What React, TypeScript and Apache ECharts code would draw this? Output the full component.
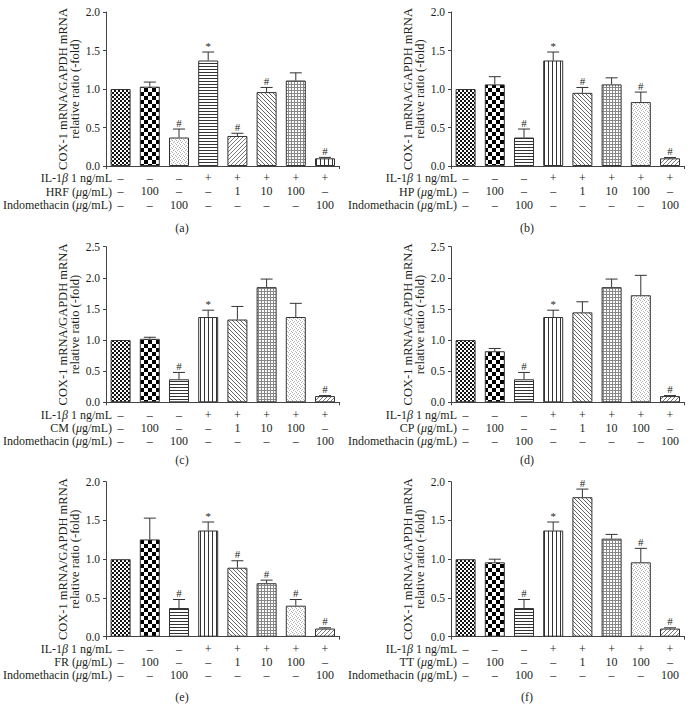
import React, { useEffect, useRef } from "react";
import * as echarts from "echarts";

// ---------- data ----------
const columns = ["G1", "G2", "G3", "G4", "G5", "G6", "G7", "G8"];
const il1bRow = ["–", "–", "–", "+", "+", "+", "+", "+"];
const extractRow = ["–", "100", "–", "–", "1", "10", "100", "–"];
const indoRow = ["–", "–", "100", "–", "–", "–", "–", "100"];

const extractNames = ["HRF", "HP", "CM", "CP", "FR", "TT"];
const panelTags = ["(a)", "(b)", "(c)", "(d)", "(e)", "(f)"];
const yMaxes = [2.0, 2.0, 2.5, 2.5, 2.0, 2.0];

const meansA = [1.0, 1.03, 0.37, 1.37, 0.39, 0.96, 1.11, 0.1];
const semA = [0, 0.06, 0.11, 0.11, 0.035, 0.06, 0.1, 0.012];
const marksA = ["", "", "#", "*", "#", "#", "", "#"];

const meansB = [1.0, 1.06, 0.37, 1.37, 0.95, 1.06, 0.83, 0.1];
const semB = [0, 0.1, 0.11, 0.11, 0.07, 0.085, 0.13, 0.01];
const marksB = ["", "", "#", "*", "#", "", "#", "#"];

const meansC = [1.0, 1.02, 0.37, 1.37, 1.33, 1.85, 1.37, 0.1];
const semC = [0, 0.025, 0.11, 0.11, 0.21, 0.13, 0.22, 0.008];
const marksC = ["", "", "#", "*", "", "", "", "#"];

const meansD = [1.0, 0.82, 0.37, 1.37, 1.445, 1.85, 1.72, 0.1];
const semD = [0, 0.045, 0.11, 0.11, 0.17, 0.13, 0.32, 0.008];
const marksD = ["", "", "#", "*", "", "", "", "#"];

const meansE = [1.0, 1.255, 0.37, 1.37, 0.89, 0.69, 0.4, 0.105];
const semE = [0, 0.275, 0.11, 0.11, 0.09, 0.04, 0.08, 0.01];
const marksE = ["", "", "#", "*", "#", "#", "#", "#"];

const meansF = [1.0, 0.96, 0.37, 1.37, 1.8, 1.265, 0.96, 0.105];
const semF = [0, 0.04, 0.11, 0.11, 0.105, 0.055, 0.18, 0.01];
const marksF = ["", "", "#", "*", "#", "", "#", "#"];

const allMeans = [meansA, meansB, meansC, meansD, meansE, meansF];
const allSem = [semA, semB, semC, semD, semE, semF];
const allMarks = [marksA, marksB, marksC, marksD, marksE, marksF];

const patternsA = ["chkS", "chkL", "stip", "hline", "diagF", "diagB", "grid", "vline"];
const patternsOther = ["chkS", "chkL", "hline", "vline", "diagB", "grid", "stip", "diagF"];

// ---------- styling ----------
const FONT = '"Liberation Serif", "Times New Roman", serif';
const TXT = "#231f20";
const AX = "#444";

function makePattern(kind: string) {
  const sizes: Record<string, number> = {
    chkS: 4, chkL: 8, hline: 3, vline: 4, diagF: 4, diagB: 4, grid: 3, stip: 4,
  };
  const s = sizes[kind];
  const c = document.createElement("canvas");
  c.width = s;
  c.height = s;
  const g = c.getContext("2d")!;
  g.fillStyle = "#fff";
  g.fillRect(0, 0, s, s);
  const px = (x: number, y: number, col: string) => {
    g.fillStyle = col;
    g.fillRect(x, y, 1, 1);
  };
  if (kind === "chkS") {
    g.fillStyle = "#111";
    g.fillRect(0, 0, 2, 2);
    g.fillRect(2, 2, 2, 2);
  } else if (kind === "chkL") {
    g.fillStyle = "#000";
    g.fillRect(0, 0, 4, 4);
    g.fillRect(4, 4, 4, 4);
  } else if (kind === "hline") {
    g.fillStyle = "#333";
    g.fillRect(0, 0, s, 1);
  } else if (kind === "vline") {
    g.fillStyle = "#333";
    g.fillRect(0, 0, 1, s);
  } else if (kind === "diagF") {
    for (let i = 0; i < 4; i++) px(3 - i, i, "#777");
  } else if (kind === "diagB") {
    for (let i = 0; i < 4; i++) px(i, i, "#666");
  } else if (kind === "grid") {
    g.fillStyle = "#888";
    g.fillRect(0, 0, s, 1);
    g.fillRect(0, 0, 1, s);
  } else if (kind === "stip") {
    px(0, 0, "#aaa");
    px(2, 1, "#bbb");
    px(1, 2, "#aaa");
    px(3, 3, "#bbb");
  }
  return { image: c.toDataURL(), repeat: "repeat", imageWidth: s, imageHeight: s };
}

const colLefts = [106, 451];
const gridWidth = 233.6;
const rowTops = [12, 246.7, 481.7];
const rowBottoms = [166, 402.3, 636.7];
const captionX = [182, 527];
const captionY = [227.7, 460, 697.3];
const firstRowOffset = 12.3;
const rowStep = 13.2;

export default function App() {
  const ref = useRef<HTMLDivElement>(null);
  useEffect(() => {
    document.body.style.margin = "0";
    const chart = echarts.init(ref.current!, null, { renderer: "svg" });
    const pat: Record<string, any> = {};
    ["chkS", "chkL", "hline", "vline", "diagF", "diagB", "grid", "stip"].forEach(
      (k) => (pat[k] = makePattern(k))
    );

    const grids: any[] = [];
    const xAxes: any[] = [];
    const yAxes: any[] = [];
    const series: any[] = [];
    const graphics: any[] = [];

    for (let p = 0; p < 6; p++) {
      const col = p % 2;
      const row = Math.floor(p / 2);
      const left = colLefts[col];
      const top = rowTops[row];
      const bottom = rowBottoms[row];
      grids.push({ left, top, width: gridWidth, height: bottom - top });
      xAxes.push({
        type: "category",
        gridIndex: p,
        data: columns,
        boundaryGap: true,
        axisLine: { lineStyle: { color: AX, width: 1 } },
        axisTick: { show: true, interval: (i: number) => i === 4, length: 3, lineStyle: { color: AX } },
        axisLabel: {
          interval: 0,
          margin: firstRowOffset - rowStep / 2,
          lineHeight: rowStep,
          fontSize: 12,
          fontFamily: FONT,
          color: TXT,
          formatter: (_v: string, i: number) => `${il1bRow[i]}\n${extractRow[i]}\n${indoRow[i]}`,
        },
        splitLine: { show: false },
      });
      yAxes.push({
        type: "value",
        gridIndex: p,
        min: 0,
        max: yMaxes[p],
        interval: 0.5,
        axisLine: { show: true, lineStyle: { color: AX, width: 1 } },
        axisTick: { show: true, length: 3, lineStyle: { color: AX } },
        axisLabel: {
          fontSize: 11.5,
          fontFamily: FONT,
          color: TXT,
          margin: 6,
          formatter: (v: number) => v.toFixed(1),
        },
        splitLine: { show: false },
        name: "COX-1 mRNA/GAPDH mRNA\nrelative ratio (-fold)",
        nameLocation: "middle",
        nameGap: 35,
        nameRotate: 90,
        nameTextStyle: {
          fontSize: 12.5,
          fontFamily: FONT,
          color: TXT,
          lineHeight: 12.5,
          align: "center",
          verticalAlign: "middle",
        },
      });
      const pats = p === 0 ? patternsA : patternsOther;
      const means = allMeans[p];
      const sems = allSem[p];
      const marks = allMarks[p];
      series.push({
        type: "bar",
        xAxisIndex: p,
        yAxisIndex: p,
        barWidth: 20,
        data: means.map((m, i) => ({
          value: m,
          itemStyle: { color: pat[pats[i]], borderColor: "#333", borderWidth: 1 },
        })),
      });
      series.push({
        type: "custom",
        xAxisIndex: p,
        yAxisIndex: p,
        z: 5,
        encode: { x: 0, y: 1 },
        data: means.map((m, i) => [i, m, sems[i]]),
        renderItem: (params: any, api: any) => {
          const i = api.value(0);
          const m = api.value(1);
          const s = api.value(2);
          const p0 = api.coord([i, m]);
          const p1 = api.coord([i, m + s]);
          const children: any[] = [];
          if (s > 0) {
            children.push({
              type: "line",
              shape: { x1: p0[0], y1: p0[1], x2: p1[0], y2: p1[1] },
              style: { stroke: "#333", lineWidth: 1 },
            });
            children.push({
              type: "line",
              shape: { x1: p1[0] - 6, y1: p1[1], x2: p1[0] + 6, y2: p1[1] },
              style: { stroke: "#333", lineWidth: 1 },
            });
          }
          const mk = marks[params.dataIndex];
          if (mk) {
            children.push({
              type: "text",
              x: p1[0],
              y: p1[1] - 1,
              style: {
                text: mk,
                fontSize: 11,
                fontFamily: FONT,
                fill: TXT,
                align: "center",
                verticalAlign: "bottom",
              },
            });
          }
          return { type: "group", children };
        },
      });

      const rowLabels = [
        "IL-1{i|β} 1 ng/mL",
        `${extractNames[p]} ({i|μ}g/mL)`,
        "Indomethacin ({i|μ}g/mL)",
      ];
      rowLabels.forEach((t, k) => {
        graphics.push({
          type: "text",
          x: left + 6,
          y: bottom + firstRowOffset + k * rowStep,
          style: {
            text: t,
            fontSize: 12,
            fontFamily: FONT,
            fill: TXT,
            align: "right",
            verticalAlign: "middle",
            rich: { i: { fontStyle: "italic", fontSize: 12, fontFamily: FONT, fill: TXT } },
          },
        });
      });
      graphics.push({
        type: "text",
        x: captionX[col],
        y: captionY[row],
        style: {
          text: panelTags[p],
          fontSize: 12,
          fontFamily: FONT,
          fill: TXT,
          align: "center",
          verticalAlign: "middle",
        },
      });
    }

    chart.setOption({
      animation: false,
      backgroundColor: "#fff",
      grid: grids,
      xAxis: xAxes,
      yAxis: yAxes,
      series,
      graphic: graphics,
    });
    return () => chart.dispose();
  }, []);
  return (
    <div
      ref={ref}
      style={{ position: "absolute", left: 0, top: 0, width: 693, height: 719 }}
    />
  );
}
